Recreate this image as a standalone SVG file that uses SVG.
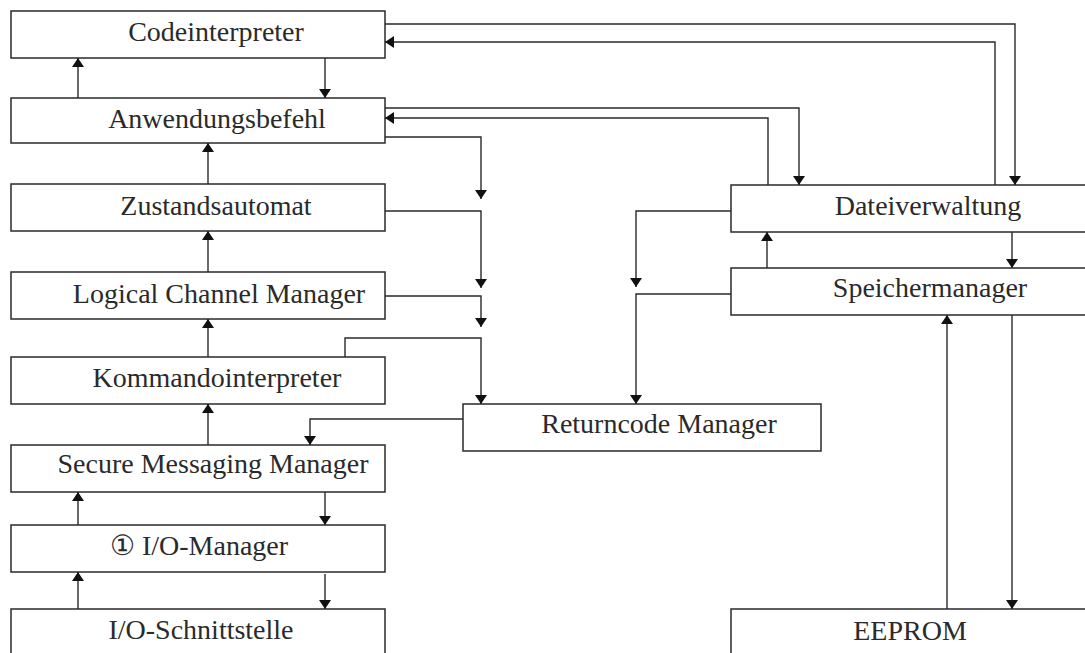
<svg xmlns="http://www.w3.org/2000/svg" width="1085" height="653" viewBox="0 0 1085 653">
  <style>
    .box { fill: #ffffff; stroke: #2a2a2a; stroke-width: 1.5; }
    .lbl { font-family: "Liberation Serif", "DejaVu Serif", serif; font-size: 28px; fill: #2a2a2a; text-anchor: middle; }
    .wire { fill: none; stroke: #2a2a2a; stroke-width: 1.4; marker-end: url(#head); }
  </style>
  <defs>
    <marker id="head" viewBox="0 0 9 12" refX="9" refY="6" markerUnits="userSpaceOnUse" markerWidth="9" markerHeight="12" orient="auto">
      <path d="M0,0 L9,6 L0,12 z" fill="#111111"/>
    </marker>
  </defs>
  <rect width="1085" height="653" fill="#ffffff"/>

  <g id="codeinterpreter"><rect class="box" x="11" y="11" width="374" height="47"/><text class="lbl" x="216" y="41">Codeinterpreter</text></g>
  <g id="anwendungsbefehl"><rect class="box" x="11" y="98" width="374" height="45"/><text class="lbl" x="217" y="128">Anwendungsbefehl</text></g>
  <g id="zustandsautomat"><rect class="box" x="11" y="184" width="374" height="47"/><text class="lbl" x="216" y="215">Zustandsautomat</text></g>
  <g id="logical-channel-manager"><rect class="box" x="11" y="272" width="374" height="47"/><text class="lbl" x="219" y="303">Logical Channel Manager</text></g>
  <g id="kommandointerpreter"><rect class="box" x="11" y="357" width="374" height="47"/><text class="lbl" x="217" y="387">Kommandointerpreter</text></g>
  <g id="secure-messaging-manager"><rect class="box" x="11" y="445" width="374" height="47"/><text class="lbl" x="213" y="473">Secure Messaging Manager</text></g>
  <g id="io-manager"><rect class="box" x="11" y="525" width="374" height="47"/><text class="lbl" x="199" y="555">① I/O-Manager</text></g>
  <g id="io-schnittstelle"><rect class="box" x="11" y="609" width="374" height="60"/><text class="lbl" x="201" y="639">I/O-Schnittstelle</text></g>
  <g id="returncode-manager"><rect class="box" x="463" y="404" width="358" height="47"/><text class="lbl" x="659" y="433">Returncode Manager</text></g>
  <g id="dateiverwaltung"><rect class="box" x="731" y="185" width="370" height="47"/><text class="lbl" x="928" y="215">Dateiverwaltung</text></g>
  <g id="speichermanager"><rect class="box" x="731" y="268" width="370" height="47"/><text class="lbl" x="930" y="297">Speichermanager</text></g>
  <g id="eeprom"><rect class="box" x="731" y="609" width="370" height="60"/><text class="lbl" x="910" y="640">EEPROM</text></g>

  <g id="connectors">
    <path class="wire" d="M78,98 V58"/>
    <path class="wire" d="M325,58 V98"/>
    <path class="wire" d="M208,184 V143"/>
    <path class="wire" d="M208,272 V231"/>
    <path class="wire" d="M208,357 V319"/>
    <path class="wire" d="M208,445 V404"/>
    <path class="wire" d="M78,525 V492"/>
    <path class="wire" d="M325,492 V525"/>
    <path class="wire" d="M78,609 V572"/>
    <path class="wire" d="M325,574 V609"/>
    <path class="wire" d="M385,24 H1015 V185"/>
    <path class="wire" d="M995,185 V42 H385"/>
    <path class="wire" d="M385,108 H799 V185"/>
    <path class="wire" d="M768,185 V118 H385"/>
    <path class="wire" d="M385,137 H481 V199"/>
    <path class="wire" d="M385,211 H481 V288"/>
    <path class="wire" d="M385,296 H481 V327"/>
    <path class="wire" d="M345,357 V338 H481 V404"/>
    <path class="wire" d="M731,211 H636 V287"/>
    <path class="wire" d="M731,294 H636 V404"/>
    <path class="wire" d="M767,268 V232"/>
    <path class="wire" d="M1012,232 V268"/>
    <path class="wire" d="M947,609 V315"/>
    <path class="wire" d="M1012,315 V609"/>
    <path class="wire" d="M463,419 H310 V445"/>
  </g>
</svg>
